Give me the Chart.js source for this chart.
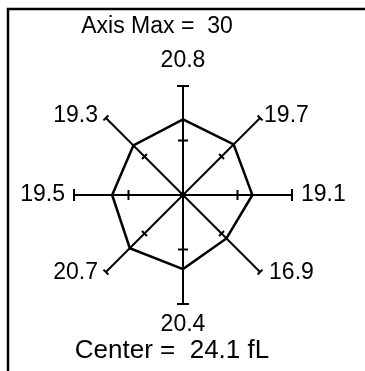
<!DOCTYPE html>
<html>
<head>
<meta charset="utf-8">
<script src="https://cdn.jsdelivr.net/npm/chart.js@4.4.1/dist/chart.umd.min.js"></script>
<style>
  html, body { margin: 0; padding: 0; background: #fff; }
  canvas { display: block; }
</style>
</head>
<body>
<canvas id="star" width="365" height="371"></canvas>
<script>
// Star plot values, clockwise from the top spoke
const spokes = ['N', 'NE', 'E', 'SE', 'S', 'SW', 'W', 'NW'];
const values = [20.8, 19.7, 19.1, 16.9, 20.4, 20.7, 19.5, 19.3];
const axisMax = 30;
const midTick = 15;
const centerValue = '24.1 fL';

const FAMILY = '"Liberation Sans", Arial, sans-serif';

// Frame, spoke ticks, value labels and captions
const starDecor = {
    id: 'starDecor',
    afterDraw(chart) {
        const ctx = chart.ctx;
        const r = chart.scales.r;
        ctx.save();

        // top and left frame edges
        ctx.strokeStyle = '#000';
        ctx.lineWidth = 2.5;
        ctx.beginPath();
        ctx.moveTo(365, 9);
        ctx.lineTo(8, 9);
        ctx.lineTo(8, 371);
        ctx.stroke();

        ctx.lineWidth = 2;
        const tick = (i, value, len) => {
            const p = r.getPointPosition(i, r.getDistanceFromCenterForValue(value));
            const a = r.getIndexAngle(i);
            const dx = Math.cos(a) * len / 2;
            const dy = Math.sin(a) * len / 2;
            ctx.beginPath();
            ctx.moveTo(p.x - dx, p.y - dy);
            ctx.lineTo(p.x + dx, p.y + dy);
            ctx.stroke();
            return p;
        };

        ctx.font = '23px ' + FAMILY;
        ctx.fillStyle = '#000';
        spokes.forEach((s, i) => {
            const diag = i % 2 === 1;
            tick(i, midTick, diag ? 7 : 10);
            const p = tick(i, axisMax, diag ? 7 : 12);
            const txt = values[i].toFixed(1);
            ctx.textBaseline = 'middle';
            if (s === 'N') {
                ctx.textAlign = 'center';
                ctx.fillText(txt, p.x, p.y - 25);
            } else if (s === 'S') {
                ctx.textAlign = 'center';
                ctx.fillText(txt, p.x, p.y + 21);
            } else if (s === 'E') {
                ctx.textAlign = 'left';
                ctx.fillText(txt, p.x + 9, p.y);
            } else if (s === 'W') {
                ctx.textAlign = 'right';
                ctx.fillText(txt, p.x - 9, p.y);
            } else {
                const east = s.endsWith('E');
                const north = s.startsWith('N');
                ctx.textAlign = east ? 'left' : 'right';
                const off = east ? (north ? 4 : 9) : -8;
                ctx.fillText(txt, p.x + off, p.y + (north ? -2 : 1));
            }
        });

        // center dot
        ctx.beginPath();
        ctx.arc(r.xCenter, r.yCenter, 3, 0, Math.PI * 2);
        ctx.fill();

        ctx.textAlign = 'center';
        ctx.textBaseline = 'middle';
        ctx.fillText('Axis Max =  ' + axisMax, 157, 27);
        ctx.font = '26px ' + FAMILY;
        ctx.fillText('Center =  ' + centerValue, 172, 351);
        ctx.restore();
    }
};

new Chart(document.getElementById('star'), {
    type: 'radar',
    data: {
        labels: spokes,
        datasets: [{
            data: values,
            borderColor: '#000',
            borderWidth: 2.5,
            fill: false,
            pointRadius: 0,
            tension: 0
        }]
    },
    options: {
        responsive: false,
        animation: false,
        layout: { padding: { left: 74, right: 73, top: 86, bottom: 67 } },
        plugins: {
            legend: { display: false },
            tooltip: { enabled: false }
        },
        scales: {
            r: {
                min: 0,
                max: axisMax,
                ticks: { display: false },
                grid: { display: false },
                pointLabels: { display: false },
                angleLines: { display: true, color: '#000', lineWidth: 2 }
            }
        }
    },
    plugins: [starDecor]
});
</script>
</body>
</html>
